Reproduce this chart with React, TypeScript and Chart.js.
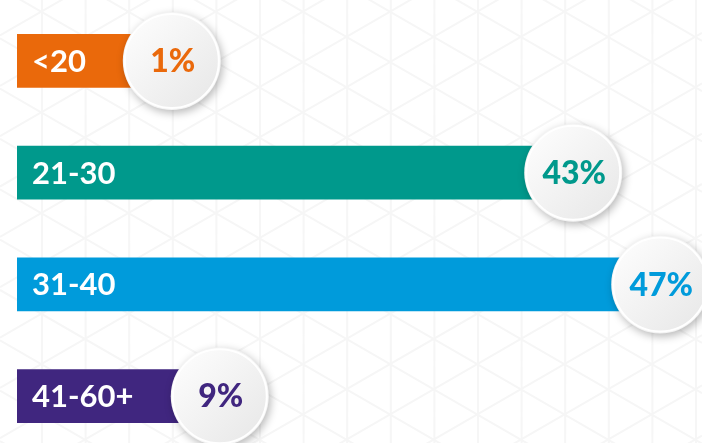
import React, { useEffect, useRef } from "react";
import { Chart, registerables } from "chart.js";

Chart.register(...registerables);

const categories = ["<20", "21-30", "31-40", "41-60+"];
const percentages = [1, 43, 47, 9];
// visual bar length (to the centre of the badge), as % of the plot width
const barLengths = [22.6, 81.2, 93.9, 29.6];
const barColors = ["#EA690B", "#00998C", "#009BDB", "#40267F"];

const W = 702;
const H = 452;

const patternPlugin = {
  id: "pattern",
  beforeDraw(chart: any) {
    const ctx = chart.ctx;
    ctx.save();
    ctx.fillStyle = "#ffffff";
    ctx.fillRect(0, 0, chart.width, chart.height);
    ctx.strokeStyle = "#f6f6f6";
    ctx.lineWidth = 2;
    const d = 43.6;
    const x0 = 260 % d;
    ctx.beginPath();
    for (let x = x0; x < chart.width + d; x += d) {
      ctx.moveTo(x, 0);
      ctx.lineTo(x, chart.height);
    }
    const t = Math.tan(Math.PI / 6);
    const vs = d / Math.cos(Math.PI / 6);
    const baseY = 11.7 - 390 * t;
    for (let k = -40; k < 40; k++) {
      const b = baseY + k * vs;
      ctx.moveTo(0, b);
      ctx.lineTo(chart.width, b + chart.width * t);
    }
    const baseY2 = 11.7 + 390 * t;
    for (let k = -40; k < 40; k++) {
      const b = baseY2 + k * vs;
      ctx.moveTo(0, b);
      ctx.lineTo(chart.width, b - chart.width * t);
    }
    ctx.stroke();
    ctx.restore();
  },
};

const badgePlugin = {
  id: "badges",
  afterDatasetsDraw(chart: any) {
    const ctx = chart.ctx;
    const meta = chart.getDatasetMeta(0);
    const left = chart.chartArea.left;
    meta.data.forEach((bar: any, i: number) => {
      // label inside bar
      ctx.save();
      ctx.fillStyle = "#ffffff";
      ctx.font = "bold 31px Lato";
      ctx.textAlign = "left";
      ctx.textBaseline = "middle";
      ctx.fillText(categories[i], left + 15, bar.y + 1);
      ctx.restore();

      const cx = bar.x;
      const cy = bar.y;
      const r = 49;
      ctx.save();
      ctx.shadowColor = "rgba(0,0,0,0.28)";
      ctx.shadowBlur = 9;
      ctx.shadowOffsetX = 2;
      ctx.shadowOffsetY = 3;
      ctx.beginPath();
      ctx.arc(cx, cy, r, 0, Math.PI * 2);
      ctx.fillStyle = "#f4f4f4";
      ctx.fill();
      ctx.restore();

      ctx.save();
      const g = ctx.createLinearGradient(cx - r, cy - r, cx + r, cy + r);
      g.addColorStop(0, "#ffffff");
      g.addColorStop(1, "#e6e6e6");
      ctx.beginPath();
      ctx.arc(cx, cy, r - 2, 0, Math.PI * 2);
      ctx.fillStyle = g;
      ctx.fill();
      ctx.lineWidth = 2;
      ctx.strokeStyle = "#ffffff";
      ctx.stroke();
      ctx.restore();

      ctx.save();
      ctx.fillStyle = barColors[i];
      ctx.font = "900 32px Lato";
      ctx.textAlign = "center";
      ctx.textBaseline = "middle";
      ctx.fillText(percentages[i] + "%", cx + 1, cy + 1);
      ctx.restore();
    });
  },
};

export default function App() {
  const ref = useRef<HTMLCanvasElement>(null);
  useEffect(() => {
    if (!ref.current) return;
    const chart = new Chart(ref.current, {
      type: "bar",
      data: {
        labels: categories,
        datasets: [
          {
            data: barLengths,
            backgroundColor: barColors,
            barThickness: 53,
            borderWidth: 0,
          },
        ],
      },
      options: {
        indexAxis: "y",
        animation: false,
        responsive: false,
        devicePixelRatio: 1,
        layout: { padding: { left: 17, right: 0, top: 5, bottom: 0 } },
        plugins: { legend: { display: false }, tooltip: { enabled: false } },
        scales: {
          x: { display: false, min: 0, max: 100 },
          y: { display: false },
        },
      },
      plugins: [patternPlugin, badgePlugin],
    });
    return () => chart.destroy();
  }, []);
  return (
    <div style={{ position: "absolute", left: 0, top: 0, width: W, height: H }}>
      <canvas ref={ref} width={W} height={H} style={{ display: "block" }} />
    </div>
  );
}
